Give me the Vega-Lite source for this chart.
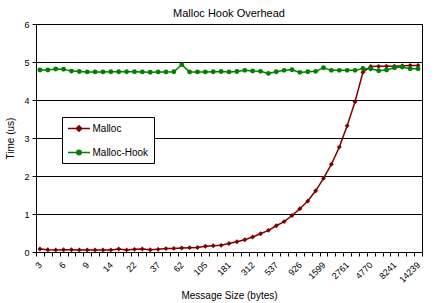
{
  "$schema": "https://vega.github.io/schema/vega-lite/v6.json",
  "width": 386,
  "height": 228,
  "autosize": "none",
  "padding": {"left": 36, "top": 24, "right": 19, "bottom": 51},
  "background": "white",
  "title": {"text": "Malloc Hook Overhead", "fontSize": 11, "font": "Liberation Sans", "fontWeight": "normal", "color": "black", "anchor": "middle", "frame": "group", "offset": 1},
  "config": {
    "view": {"stroke": "black", "strokeWidth": 1},
    "font": "Liberation Sans"
  },
  "data": {"values": [
    {"size": 3, "Malloc": 0.08, "Malloc-Hook": 4.79},
    {"size": 4, "Malloc": 0.06, "Malloc-Hook": 4.79},
    {"size": 5, "Malloc": 0.055, "Malloc-Hook": 4.815},
    {"size": 6, "Malloc": 0.06, "Malloc-Hook": 4.81},
    {"size": 7, "Malloc": 0.06, "Malloc-Hook": 4.76},
    {"size": 8, "Malloc": 0.055, "Malloc-Hook": 4.75},
    {"size": 9, "Malloc": 0.055, "Malloc-Hook": 4.74},
    {"size": 10, "Malloc": 0.055, "Malloc-Hook": 4.74},
    {"size": 12, "Malloc": 0.055, "Malloc-Hook": 4.74},
    {"size": 14, "Malloc": 0.055, "Malloc-Hook": 4.745},
    {"size": 16, "Malloc": 0.08, "Malloc-Hook": 4.745},
    {"size": 19, "Malloc": 0.055, "Malloc-Hook": 4.745},
    {"size": 22, "Malloc": 0.07, "Malloc-Hook": 4.745},
    {"size": 26, "Malloc": 0.08, "Malloc-Hook": 4.74},
    {"size": 31, "Malloc": 0.06, "Malloc-Hook": 4.73},
    {"size": 37, "Malloc": 0.07, "Malloc-Hook": 4.74},
    {"size": 44, "Malloc": 0.09, "Malloc-Hook": 4.74},
    {"size": 52, "Malloc": 0.095, "Malloc-Hook": 4.745},
    {"size": 62, "Malloc": 0.105, "Malloc-Hook": 4.93},
    {"size": 74, "Malloc": 0.115, "Malloc-Hook": 4.74},
    {"size": 88, "Malloc": 0.12, "Malloc-Hook": 4.74},
    {"size": 105, "Malloc": 0.15, "Malloc-Hook": 4.74},
    {"size": 126, "Malloc": 0.165, "Malloc-Hook": 4.745},
    {"size": 151, "Malloc": 0.175, "Malloc-Hook": 4.75},
    {"size": 181, "Malloc": 0.225, "Malloc-Hook": 4.74},
    {"size": 217, "Malloc": 0.27, "Malloc-Hook": 4.75},
    {"size": 260, "Malloc": 0.324, "Malloc-Hook": 4.78},
    {"size": 312, "Malloc": 0.395, "Malloc-Hook": 4.763},
    {"size": 374, "Malloc": 0.48, "Malloc-Hook": 4.754},
    {"size": 448, "Malloc": 0.57, "Malloc-Hook": 4.70},
    {"size": 537, "Malloc": 0.69, "Malloc-Hook": 4.745},
    {"size": 644, "Malloc": 0.80, "Malloc-Hook": 4.78},
    {"size": 772, "Malloc": 0.96, "Malloc-Hook": 4.797},
    {"size": 926, "Malloc": 1.14, "Malloc-Hook": 4.727},
    {"size": 1111, "Malloc": 1.34, "Malloc-Hook": 4.745},
    {"size": 1333, "Malloc": 1.61, "Malloc-Hook": 4.754},
    {"size": 1599, "Malloc": 1.94, "Malloc-Hook": 4.85},
    {"size": 1918, "Malloc": 2.31, "Malloc-Hook": 4.78},
    {"size": 2301, "Malloc": 2.76, "Malloc-Hook": 4.78},
    {"size": 2761, "Malloc": 3.32, "Malloc-Hook": 4.78},
    {"size": 3313, "Malloc": 3.955, "Malloc-Hook": 4.78},
    {"size": 3975, "Malloc": 4.73, "Malloc-Hook": 4.83},
    {"size": 4770, "Malloc": 4.88, "Malloc-Hook": 4.824},
    {"size": 5724, "Malloc": 4.885, "Malloc-Hook": 4.77},
    {"size": 6868, "Malloc": 4.89, "Malloc-Hook": 4.79},
    {"size": 8241, "Malloc": 4.89, "Malloc-Hook": 4.85},
    {"size": 9889, "Malloc": 4.90, "Malloc-Hook": 4.87},
    {"size": 11866, "Malloc": 4.91, "Malloc-Hook": 4.824},
    {"size": 14239, "Malloc": 4.91, "Malloc-Hook": 4.824}
  ]},
  "transform": [{"fold": ["Malloc", "Malloc-Hook"], "as": ["series", "time"]}],
  "encoding": {
    "x": {
      "field": "size", "type": "ordinal", "bandPosition": 0.5,
      "scale": {"type": "band", "paddingInner": 0, "paddingOuter": 0},
      "axis": {
        "title": "Message Size (bytes)", "titleFontSize": 10, "titleFontWeight": "normal", "titleColor": "black", "titlePadding": 6,
        "labelAngle": 315, "labelAlign": "right", "labelBaseline": "middle", "labelFontSize": 9, "labelColor": "black", "labelOverlap": false, "labelPadding": 7,
        "labelExpr": "indexof([3,6,9,14,22,37,62,105,181,312,537,926,1599,2761,4770,8241,14239], datum.value) >= 0 ? datum.label : ''",
        "tickBand": "extent", "tickSize": 4, "tickColor": "black", "domain": false, "grid": false
      }
    },
    "y": {
      "field": "time", "type": "quantitative",
      "scale": {"domain": [0, 6], "nice": false},
      "axis": {
        "title": "Time (us)", "titleFontSize": 10, "titleFontWeight": "normal", "titleColor": "black", "titlePadding": 8,
        "values": [0, 1, 2, 3, 4, 5, 6], "labelFontSize": 9, "labelColor": "black", "labelPadding": 3,
        "tickSize": 4, "tickColor": "black", "domain": false, "grid": true, "gridColor": "black", "gridOpacity": 1
      }
    },
    "color": {
      "field": "series", "type": "nominal",
      "scale": {"domain": ["Malloc", "Malloc-Hook"], "range": ["#800000", "#008000"]},
      "legend": {
        "title": null, "orient": "none", "legendX": 26, "legendY": 93,
        "fillColor": "white", "strokeColor": "black", "padding": 5, "rowPadding": 11,
        "labelFontSize": 10, "labelColor": "black", "labelOffset": 7,
        "symbolType": "M-2,0H2", "symbolSize": 121, "symbolStrokeWidth": 1.5, "symbolOffset": 5.5,
        "encode": {"symbols": {"update": {
          "fill": {"scale": "color", "field": "value"},
          "stroke": {"scale": "color", "field": "value"},
          "shape": {"signal": "datum.value === 'Malloc' ? 'M-2,0H2M0,-0.5L0.5,0L0,0.5L-0.5,0Z' : 'M-2,0H2M-0.4,0A0.4,0.4 0 1,0 0.4,0A0.4,0.4 0 1,0 -0.4,0Z'"}
        }}}
      }
    }
  },
  "layer": [
    {"mark": {"type": "line", "strokeWidth": 1.5}},
    {"transform": [{"filter": "datum.series === 'Malloc'"}],
     "mark": {"type": "point", "filled": true, "opacity": 1, "size": 24, "shape": "diamond"}},
    {"transform": [{"filter": "datum.series === 'Malloc-Hook'"}],
     "mark": {"type": "point", "filled": true, "opacity": 1, "size": 24, "shape": "circle"}}
  ]
}
